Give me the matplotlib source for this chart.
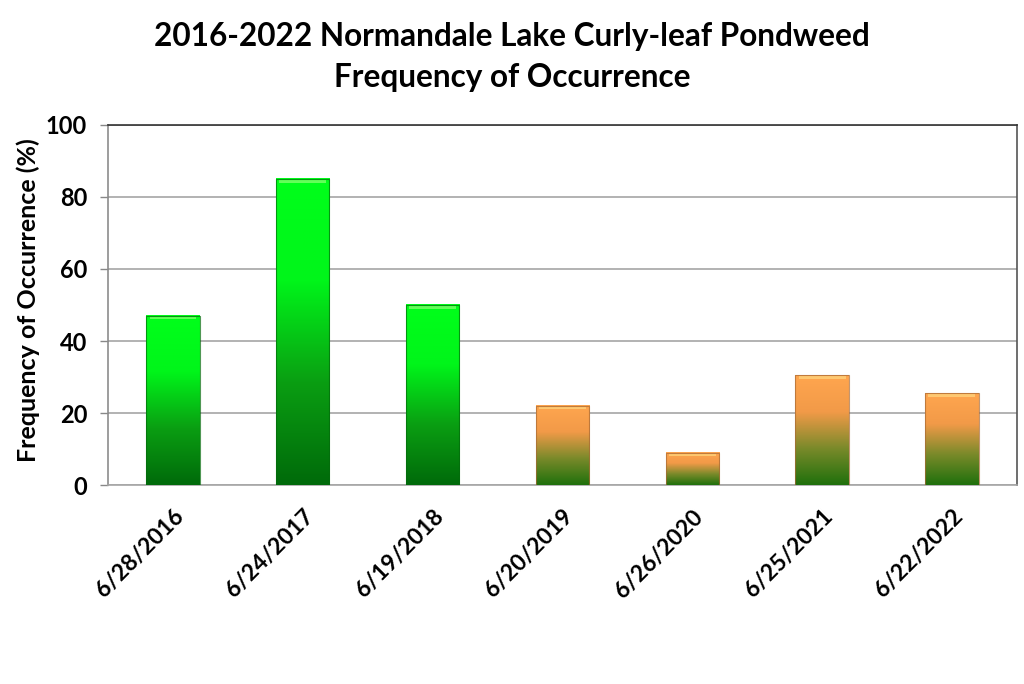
import numpy as np
import matplotlib
matplotlib.use("Agg")
import matplotlib.pyplot as plt
import matplotlib.transforms as mtransforms
from matplotlib.colors import LinearSegmentedColormap

plt.rcParams['font.family'] = ['Lato', 'DejaVu Sans']
plt.rcParams['font.weight'] = 'bold'

# 数据
dates = ['6/28/2016', '6/24/2017', '6/19/2018', '6/20/2019',
         '6/26/2020', '6/25/2021', '6/22/2022']
freq = [47, 85, 50, 22, 9, 30.5, 25.5]
kinds = ['green', 'green', 'green', 'orange', 'orange', 'orange', 'orange']

# 渐变色
cmaps = {
    'green': LinearSegmentedColormap.from_list('g', ['#006a0a', '#0a9e12', '#00f51a', '#00ff1a']),
    'orange': LinearSegmentedColormap.from_list('o', ['#1f700c', '#7a8a2a', '#f29a48', '#ffa64f']),
}

fig = plt.figure(figsize=(10.24, 6.84), dpi=100)
ax = fig.add_axes([0.1055, 0.2909, 0.8875, 0.5264])

x = np.arange(len(dates))
width = 0.41
bars = ax.bar(x, freq, width, color='none', edgecolor='none', zorder=3)

grad = np.linspace(0, 1, 256).reshape(-1, 1)
for b, k in zip(bars, kinds):
    x0, y0 = b.get_x(), b.get_y()
    w, h = b.get_width(), b.get_height()
    ax.imshow(grad, cmap=cmaps[k], origin='lower', aspect='auto',
              extent=(x0, x0 + w, y0, y0 + h), zorder=3)
    # 顶部高光
    hl = '#7dff6a' if k == 'green' else '#ffd27a'
    ax.fill_between([x0 + w * 0.06, x0 + w * 0.94], y0 + h - 1.0, y0 + h - 0.25,
                    color=hl, alpha=0.8, zorder=4, linewidth=0)
    # 边框阴影
    ec = '#046b0c' if k == 'green' else '#a86a35'
    ax.plot([x0, x0, x0 + w, x0 + w], [y0, y0 + h, y0 + h, y0], color=ec,
            lw=0.8, alpha=0.7, zorder=5)

ax.set_xlim(-0.5, len(dates) - 0.5)
ax.set_ylim(0, 100)
ax.set_yticks(range(0, 101, 20))
ax.set_xticks(x)
ax.set_xticklabels(dates, rotation=45, ha='right', rotation_mode='anchor',
                   fontsize=16.5, fontweight='bold')
shift = mtransforms.ScaledTranslation(4 / 100, 0, fig.dpi_scale_trans)
for lab in ax.get_xticklabels():
    lab.set_transform(lab.get_transform() + shift)
ax.tick_params(axis='x', length=0, pad=15)
ax.tick_params(axis='y', length=6, width=1, color='#888888', labelsize=17, pad=9)
for lab in ax.get_yticklabels():
    lab.set_fontweight('bold')

ax.grid(axis='y', color='#a6a6a6', lw=1.2, zorder=0)
ax.set_axisbelow(True)
ax.spines['left'].set_color('#8c8c8c')
ax.spines['bottom'].set_color('#a6a6a6')
ax.spines['top'].set_color('#333333')
ax.spines['right'].set_color('#555555')
for s in ax.spines.values():
    s.set_linewidth(1.2)

ax.set_ylabel('Frequency of Occurrence (%)', fontsize=18, fontweight='bold')
ax.yaxis.set_label_coords(40 / 1024, 1 - 300 / 684, transform=fig.transFigure)

fig.text(0.5, 0.946, '2016-2022 Normandale Lake Curly-leaf Pondweed',
         ha='center', va='center', fontsize=22.7, fontweight='bold')
fig.text(0.5, 0.887, 'Frequency of Occurrence',
         ha='center', va='center', fontsize=22.7, fontweight='bold')

fig.savefig('out.png', dpi=100)
